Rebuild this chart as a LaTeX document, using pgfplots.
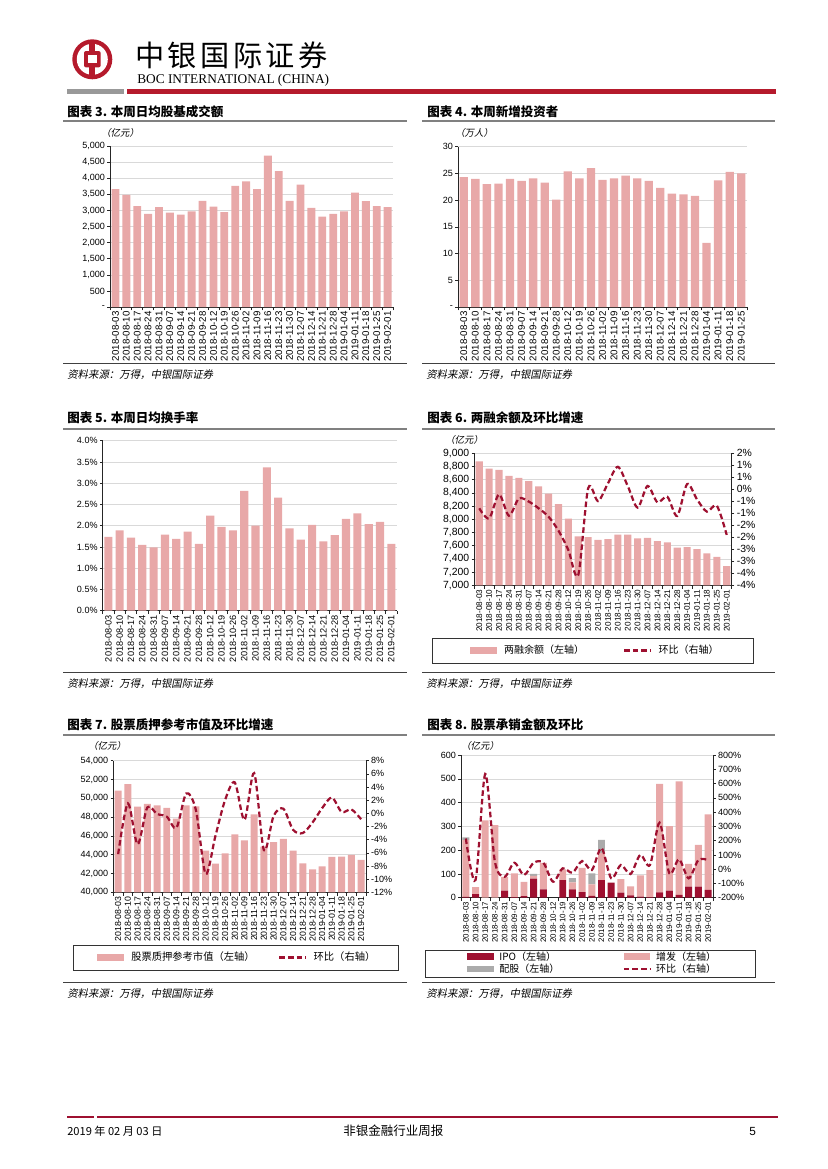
\documentclass[border=0pt]{standalone}
\usepackage{fontspec}
\usepackage{pgfplots}
\usepackage{pgfplotstable}
\pgfplotsset{compat=1.18}
\setmainfont{Liberation Sans}
\newfontfamily\cjk{Noto Sans CJK SC}
\newfontfamily\cjkit[FakeSlant=0.2]{Noto Sans CJK SC}
\newfontfamily\cjkhead[LetterSpace=12]{Noto Sans CJK SC}
\newfontfamily\serifx{Liberation Serif}
\definecolor{barpink}{HTML}{E8A8A8}
\definecolor{dred}{HTML}{9E1030}
\definecolor{hdred}{HTML}{B51A2C}
\definecolor{pggray}{HTML}{ABABAB}

% weekly data
\pgfplotstableread{
i v
0 3660
1 3480
2 3130
3 2890
4 3100
5 2930
6 2870
7 2970
8 3300
9 3120
10 2950
11 3760
12 3900
13 3660
14 4700
15 4220
16 3300
17 3800
18 3080
19 2810
20 2890
21 2970
22 3550
23 3290
24 3130
25 3100
}\tabA
\pgfplotstableread{
i v
0 24.3
1 24.0
2 23.0
3 23.1
4 24.0
5 23.6
6 24.1
7 23.3
8 20.1
9 25.4
10 24.1
11 26.0
12 23.8
13 24.1
14 24.6
15 24.1
16 23.6
17 22.3
18 21.2
19 21.1
20 20.8
21 12.0
22 23.7
23 25.3
24 25.0
}\tabB
\pgfplotstableread{
i v
0 1.74
1 1.89
2 1.72
3 1.55
4 1.49
5 1.79
6 1.69
7 1.86
8 1.57
9 2.24
10 1.97
11 1.89
12 2.82
13 2.00
14 3.37
15 2.66
16 1.94
17 1.67
18 2.02
19 1.63
20 1.78
21 2.16
22 2.29
23 2.04
24 2.09
25 1.57
}\tabC
\pgfplotstableread{
i v r
0 8880 -0.79
1 8770 -1.21
2 8750 -0.21
3 8660 -1.10
4 8630 -0.38
5 8580 -0.51
6 8500 -0.79
7 8390 -1.14
8 8230 -1.72
9 8010 -2.53
10 7740 -3.57
11 7730 0.04
12 7690 -0.49
13 7700 0.25
14 7770 0.94
15 7770 0.14
16 7710 -0.76
17 7720 0.14
18 7670 -0.54
19 7650 -0.31
20 7570 -1.11
21 7580 0.22
22 7550 -0.42
23 7485 -0.93
24 7430 -0.68
25 7290 -1.90
}\tabD
\pgfplotstableread{
i v r
0 50800 -6.2
1 51500 1.5
2 49100 -4.7
3 49400 0.9
4 49250 -0.1
5 48970 -0.5
6 47830 -2.2
7 49250 3.0
8 49140 0.5
9 44430 -9.2
10 43050 -3.5
11 44150 2.0
12 46170 4.7
13 45530 -1.0
14 48290 6.1
15 44860 -5.6
16 45350 -0.4
17 45670 0.7
18 44430 -2.5
19 43080 -3.0
20 42450 -1.4
21 42760 0.8
22 43760 2.4
23 43790 0.2
24 43970 0.6
25 43440 -0.9
}\tabE
\pgfplotstableread{
i ipo zf pg r
0 3 240 11 215
1 15 30 0 -76
2 0 325 0 667
3 0 305 0 52
4 30 58 0 -53
5 2 100 0 45
6 7 60 0 -41
7 80 12 8 45
8 35 111 0 45
9 0 0 0 -88
10 74 45 0 6
11 35 30 17 -25
12 23 103 0 57
13 8 48 46 -6
14 74 115 54 148
15 63 0 0 -64
16 21 57 0 29
17 10 38 0 -34
18 5 89 0 100
19 2 114 0 29
20 22 457 0 326
21 30 271 0 -29
22 12 477 0 69
23 47 95 0 -64
24 47 175 0 64
25 33 318 0 64
}\tabF

\pgfplotsset{
  dates/.style={xticklabels={2018-08-03,2018-08-10,2018-08-17,2018-08-24,2018-08-31,2018-09-07,2018-09-14,2018-09-21,2018-09-28,2018-10-12,2018-10-19,2018-10-26,2018-11-02,2018-11-09,2018-11-16,2018-11-23,2018-11-30,2018-12-07,2018-12-14,2018-12-21,2018-12-28,2019-01-04,2019-01-11,2019-01-18,2019-01-25,2019-02-01}},
  page/.style={scale only axis, anchor=south west, enlargelimits=false, scaled y ticks=false,
    xmin=-0.5, xmax=25.5, xtick={0,...,25}, minor xtick={-0.5,0.5,...,25.5},
    axis x line*=bottom, axis y line*=left,
    axis line style={black!85, line width=0.5pt},
    tick align=outside, major tick length=2pt, minor tick length=2.5pt,
    every major x tick/.append style={draw=none},
    every tick/.append style={black!85, line width=0.4pt},
    ymajorgrids, grid style={black!15, line width=0.4pt},
    xticklabel style={rotate=90, anchor=east, inner sep=1pt},
    yticklabel style={font=\fontsize{6.5}{7}\selectfont, inner sep=1.5pt}},
  raxis/.style={scale only axis, anchor=south west, enlargelimits=false, scaled y ticks=false,
    xmin=-0.5, xmax=25.5, axis x line=none, axis y line*=right,
    axis line style={black!85, line width=0.5pt},
    tick align=outside, major tick length=2pt,
    every tick/.append style={black!85, line width=0.4pt},
    yticklabel style={font=\fontsize{6.5}{7}\selectfont, inner sep=1.5pt, anchor=west}},
  pline/.style={dred, line width=1.6pt, dash pattern=on 4pt off 2.2pt, smooth, no markers},
  barleg/.style={legend image code/.code={\fill[#1] (0pt,-2.4pt) rectangle (19pt,2.4pt); \path (22.5pt,0pt);}},
  lineleg/.style={legend image code/.code={\draw[dred, line width=1.6pt, dash pattern=on 4pt off 2.2pt] (0pt,0pt) -- (19pt,0pt); \path (22.5pt,0pt);}},
}

\begin{document}
\begin{tikzpicture}
\begin{scope}[x=0.72pt,y=-0.72pt]
\path[use as bounding box] (0,0) rectangle (827,1169);
% header
\fill[hdred] (92.3,59.3) circle (20);
\fill[white] (92.3,59.3) circle (15.5);
\fill[hdred] (89.4,40) rectangle (95.2,79);
\fill[hdred, rounded corners=1.5pt] (84,51) rectangle (100.7,67.4);
\fill[white] (87.8,55) rectangle (96.8,63.4);
\node[anchor=west, inner sep=0pt, font=\cjkhead\fontsize{21}{22}\selectfont] at (135,55.5) {中银国际证券};
\node[anchor=west, inner sep=0pt, font=\serifx\fontsize{9.6}{10}\selectfont] at (137,80) {BOC INTERNATIONAL (CHINA)};
\fill[black!40] (67,89) rectangle (124,94);
\fill[hdred] (127,89) rectangle (776,94);
% titles, rules, units, sources
\foreach \x/\y/\t in {67/112/{图表 3. 本周日均股基成交额}, 427/112/{图表 4. 本周新增投资者}, 67/418/{图表 5. 本周日均换手率}, 427/418/{图表 6. 两融余额及环比增速}, 67/725/{图表 7. 股票质押参考市值及环比增速}, 427/725/{图表 8. 股票承销金额及环比}}
  \node[anchor=west, inner sep=0pt, font=\cjk\bfseries\fontsize{9}{10}\selectfont] at (\x,\y) {\t};
\foreach \y in {121,429,735} {
  \draw[black!50, line width=1.5pt] (63,\y) -- (407,\y);
  \draw[black!50, line width=1.5pt] (422,\y) -- (775,\y);
}
\foreach \y in {363,672,982} {
  \draw[black!75, line width=0.6pt] (63,\y) -- (407,\y);
  \draw[black!75, line width=0.6pt] (422,\y) -- (775,\y);
  \node[anchor=west, inner sep=0pt, font=\cjkit\fontsize{7.5}{8}\selectfont] at (67,\y+12) {资料来源：万得，中银国际证券};
  \node[anchor=west, inner sep=0pt, font=\cjkit\fontsize{7.5}{8}\selectfont] at (426,\y+12) {资料来源：万得，中银国际证券};
}
\foreach \x/\y/\t in {101/133/{（亿元）}, 455/133/{（万人）}, 445/440/{（亿元）}, 88/746/{（亿元）}, 461/746/{（亿元）}}
  \node[anchor=west, inner sep=0pt, font=\cjkit\fontsize{6.8}{7}\selectfont] at (\x,\y) {\t};
% legend frames
\draw[black!80, line width=0.5pt] (432,638) rectangle (753,663);
\draw[black!80, line width=0.5pt] (73,945) rectangle (398,970);
\draw[black!80, line width=0.5pt] (425,950) rectangle (755,977);
% footer
\draw[dred, line width=0.8pt] (67,1117) -- (94,1117);
\draw[dred, line width=0.8pt] (97,1117) -- (778,1117);
\node[anchor=west, inner sep=0pt, font=\cjk\fontsize{8}{9}\selectfont] at (67,1131) {2019 年 02 月 03 日};
\node[anchor=west, inner sep=0pt, font=\cjk\fontsize{9}{10}\selectfont] at (343,1131) {非银金融行业周报};
\node[anchor=west, inner sep=0pt, font=\fontsize{8.5}{9}\selectfont] at (749,1131) {5};
\end{scope}

% chart 3
\begin{axis}[page, dates, ybar, bar width=0.72, at={(79.2pt,-221.04pt)}, width=203.8pt, height=115.9pt,
  ymin=0, ymax=5000, ytick={0,500,...,5000},
  yticklabels={-,500,{1,000},{1,500},{2,000},{2,500},{3,000},{3,500},{4,000},{4,500},{5,000}},
  xticklabel style={font=\fontsize{7}{8}\selectfont}]
\addplot[fill=barpink, draw=none] table[x=i, y=v] {\tabA};
\end{axis}

% chart 4
\begin{axis}[page, dates, ybar, bar width=0.72, at={(329.76pt,-221.04pt)}, width=208.1pt, height=115.4pt,
  xmax=24.5, xtick={0,...,24}, minor xtick={-0.5,0.5,...,24.5},
  ymin=0, ymax=30, ytick={0,5,...,30}, yticklabels={-,5,10,15,20,25,30},
  xticklabel style={font=\fontsize{7}{8}\selectfont}]
\addplot[fill=barpink, draw=none] table[x=i, y=v] {\tabB};
\end{axis}

% chart 5
\begin{axis}[page, dates, ybar, bar width=0.72, at={(73.94pt,-439.7pt)}, width=211.9pt, height=122.4pt,
  ymin=0, ymax=4, ytick={0,0.5,...,4},
  yticklabels={0.0\%,0.5\%,1.0\%,1.5\%,2.0\%,2.5\%,3.0\%,3.5\%,4.0\%},
  xticklabel style={font=\fontsize{6.6}{7}\selectfont}]
\addplot[fill=barpink, draw=none] table[x=i, y=v] {\tabC};
\end{axis}

% chart 6
\begin{axis}[page, dates, ybar, bar width=0.72, at={(341.5pt,-421.42pt)}, width=185.3pt, height=95pt,
  ymin=7000, ymax=9000, ytick={7000,7200,...,9000},
  yticklabels={{7,000},{7,200},{7,400},{7,600},{7,800},{8,000},{8,200},{8,400},{8,600},{8,800},{9,000}},
  yticklabel style={font=\fontsize{7.5}{8}\selectfont},
  xticklabel style={font=\fontsize{5.9}{6}\selectfont},
  legend style={at={(-0.017,-0.494)}, anchor=west, draw=none, fill=none, inner sep=0pt,
    legend columns=2, font=\cjk\fontsize{7.2}{8}\selectfont,
    /tikz/every even column/.append style={column sep=26pt}},
  legend cell align=left]
\addplot[fill=barpink, draw=none, barleg=barpink] table[x=i, y=v] {\tabD};
\addlegendentry{两融余额（左轴）}
\addlegendimage{lineleg}
\addlegendentry{环比（右轴）}
\end{axis}
\begin{axis}[raxis, at={(341.5pt,-421.42pt)}, width=185.3pt, height=95pt,
  ymin=-4, ymax=1.5, ytick={-4,-3.5,...,1.5},
  yticklabels={-4\%,-4\%,-3\%,-3\%,-2\%,-2\%,-1\%,-1\%,0\%,1\%,1\%,2\%},
  yticklabel style={font=\fontsize{7.5}{8}\selectfont}]
\addplot[pline] table[x=i, y=r] {\tabD};
\end{axis}

% chart 7
\begin{axis}[page, dates, ybar, bar width=0.72, at={(81.58pt,-642.46pt)}, width=181.9pt, height=94.8pt,
  ymin=40000, ymax=54000, ytick={40000,42000,...,54000},
  yticklabels={{40,000},{42,000},{44,000},{46,000},{48,000},{50,000},{52,000},{54,000}},
  xticklabel style={font=\fontsize{6.3}{7}\selectfont},
  legend style={at={(-0.0645,-0.4954)}, anchor=west, draw=none, fill=none, inner sep=0pt,
    legend columns=2, font=\cjk\fontsize{7.4}{8}\selectfont,
    /tikz/every even column/.append style={column sep=15pt}},
  legend cell align=left]
\addplot[fill=barpink, draw=none, barleg=barpink] table[x=i, y=v] {\tabE};
\addlegendentry{股票质押参考市值（左轴）}
\addlegendimage{lineleg}
\addlegendentry{环比（右轴）}
\end{axis}
\begin{axis}[raxis, at={(81.58pt,-642.46pt)}, width=181.9pt, height=94.8pt,
  ymin=-12, ymax=8, ytick={-12,-10,...,8},
  yticklabels={-12\%,-10\%,-8\%,-6\%,-4\%,-2\%,0\%,2\%,4\%,6\%,8\%}]
\addplot[pline] table[x=i, y=r] {\tabE};
\end{axis}

% chart 8
\begin{axis}[page, dates, ybar stacked, bar width=0.72, at={(331.92pt,-646.34pt)}, width=181.4pt, height=102.7pt,
  ymin=0, ymax=600, ytick={0,100,...,600},
  yticklabels={0,100,200,300,400,500,600},
  xticklabel style={font=\fontsize{5.7}{6}\selectfont},
  legend style={at={(0.024,-0.4576)}, anchor=west, draw=none, fill=none, inner sep=0pt,
    legend columns=2, font=\cjk\fontsize{7.2}{8}\selectfont,
    nodes={inner sep=0.6pt},
    /tikz/every even column/.append style={column sep=45pt}},
  legend cell align=left]
\addplot[fill=dred, draw=none, barleg=dred] table[x=i, y=ipo] {\tabF};
\addlegendentry{IPO（左轴）}
\addplot[fill=barpink, draw=none, barleg=barpink] table[x=i, y=zf] {\tabF};
\addlegendentry{增发（左轴）}
\addplot[fill=pggray, draw=none, barleg=pggray] table[x=i, y=pg] {\tabF};
\addlegendentry{配股（左轴）}
\addlegendimage{lineleg}
\addlegendentry{环比（右轴）}
\end{axis}
\begin{axis}[raxis, at={(331.92pt,-646.34pt)}, width=181.4pt, height=102.7pt,
  ymin=-200, ymax=800, ytick={-200,-100,...,800},
  yticklabels={-200\%,-100\%,0\%,100\%,200\%,300\%,400\%,500\%,600\%,700\%,800\%}]
\addplot[pline] table[x=i, y=r] {\tabF};
\end{axis}
\end{tikzpicture}
\end{document}
